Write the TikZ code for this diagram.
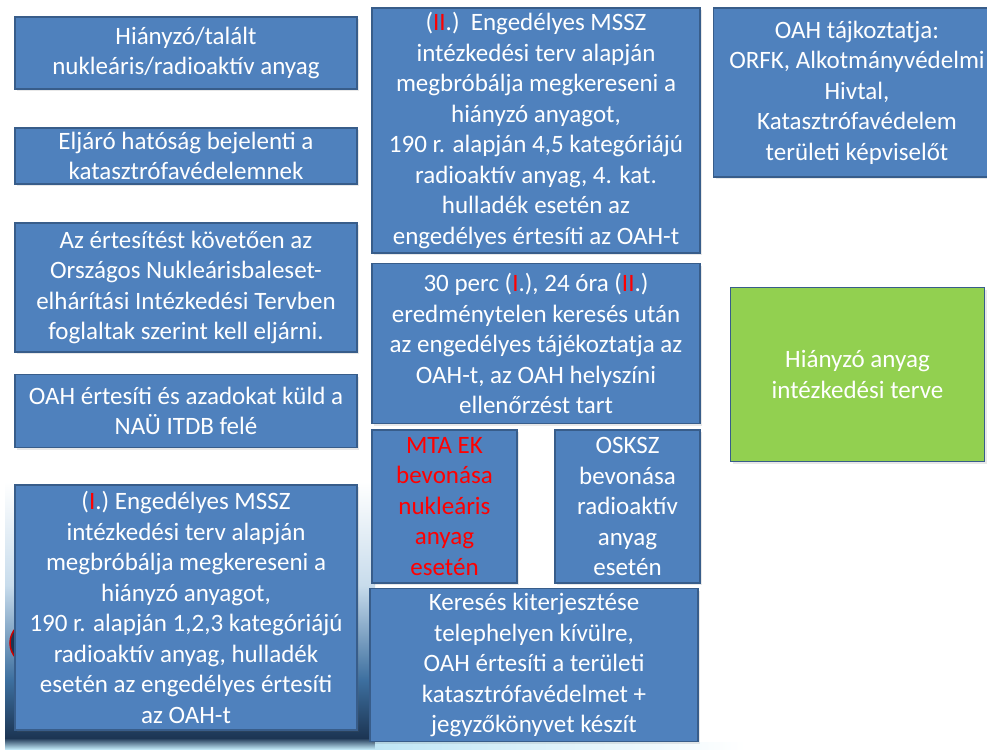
\documentclass[tikz,border=0pt]{standalone}
\usepackage{fontspec}
\setmainfont{Carlito}
\usetikzlibrary{shadows}
\definecolor{boxblue}{HTML}{4F81BD}
\definecolor{boxline}{HTML}{385D8A}
\definecolor{boxgreen}{HTML}{92D050}
\definecolor{navy}{HTML}{1C3553}
\definecolor{seablue}{HTML}{3D6F9F}
\definecolor{skyblue}{HTML}{C8DCEC}
\definecolor{glow}{HTML}{BFE6F5}
\newcommand{\rd}[1]{{\color{red}#1}}
\tikzset{
  box/.style={draw=boxline, fill=boxblue, line width=1.4pt, text=white, align=center,
    inner sep=0pt, font=\fontsize{25}{30.5}\selectfont,
    drop shadow={shadow xshift=2pt, shadow yshift=-2pt, opacity=0.15, fill=black!60}},
  gbox/.style={box, fill=boxgreen}
}
\begin{document}
\begin{tikzpicture}[x=1pt,y=-1pt]
\useasboundingbox (0,0) rectangle (987,749);
\fill[white] (0,0) rectangle (987,749);
% background picture fragment (bottom left)
\begin{scope}
\clip (0,0) rectangle (987,749);
\shade[top color=white, bottom color=skyblue] (5,482) rectangle (375,585);
\shade[top color=skyblue, bottom color=seablue] (5,585) rectangle (375,680);
\shade[top color=seablue, bottom color=navy] (5,680) rectangle (375,738);
\shade[top color=navy, bottom color=glow] (5,738) rectangle (375,749);
\shade[left color=glow, right color=white] (375,742) rectangle (745,749);
\draw[red!80!black, line width=1.5pt, fill=navy] (32,643) circle (22);
\end{scope}
% boxes
\node[box, minimum width=342, minimum height=72] (n1) at (186,53)
  {Hiányzó/talált\\nukleáris/radioaktív anyag};
\node[box, minimum width=342, minimum height=56] (n2) at (186,156)
  {Eljáró hatóság bejelenti a\\katasztrófavédelemnek};
\node[box, minimum width=342, minimum height=129] (n3) at (186,287.5)
  {Az értesítést követően az\\Országos Nukleárisbaleset-\\elhárítási Intézkedési Tervben\\foglaltak szerint kell eljárni.};
\node[box, minimum width=342, minimum height=73] (n4) at (186,411)
  {OAH értesíti és azadokat küld a\\NAÜ ITDB felé};
\node[box, minimum width=342, minimum height=245] (n5) at (186,607.5)
  {(\rd{I}.) Engedélyes MSSZ\\intézkedési terv alapján\\megbróbálja megkereseni a\\hiányzó anyagot,\\190 r. alapján 1,2,3 kategóriájú\\radioaktív anyag, hulladék\\esetén az engedélyes értesíti\\az OAH-t};
\node[box, minimum width=328, minimum height=245] (n6) at (536,130.5)
  {(\rd{II}.)\ \ Engedélyes MSSZ\\intézkedési terv alapján\\megbróbálja megkereseni a\\hiányzó anyagot,\\190 r. alapján 4,5 kategóriájú\\radioaktív anyag, 4. kat.\\hulladék esetén az\\engedélyes értesíti az OAH-t};
\node[box, minimum width=328, minimum height=160] (n7) at (536,343.5)
  {30 perc (\rd{I}.), 24 óra (\rd{II}.)\\eredménytelen keresés után\\az engedélyes tájékoztatja az\\OAH-t, az OAH helyszíni\\ellenőrzést tart};
\node[box, minimum width=145, minimum height=153] (n8) at (444.5,506.5)
  {\color{red}MTA EK\\\color{red}bevonása\\\color{red}nukleáris\\\color{red}anyag\\\color{red}esetén};
\node[box, minimum width=145, minimum height=153] (n9) at (627.5,506.5)
  {OSKSZ\\bevonása\\radioaktív\\anyag\\esetén};
\node[box, minimum width=328, minimum height=153] (n10) at (534,665)
  {Keresés kiterjesztése\\telephelyen kívülre,\\OAH értesíti a területi\\katasztrófavédelmet +\\jegyzőkönyvet készít};
\begin{scope}
\clip (0,0) rectangle (987,749);
\node[box, minimum width=287, minimum height=169] (n11) at (857,92.5)
  {OAH tájkoztatja:\\ORFK, Alkotmányvédelmi\\Hivtal,\\Katasztrófavédelem\\területi képviselőt};
\end{scope}
\node[gbox, minimum width=254, minimum height=174] (n12) at (857.5,374.5)
  {Hiányzó anyag\\intézkedési terve};
\end{tikzpicture}
\end{document}
